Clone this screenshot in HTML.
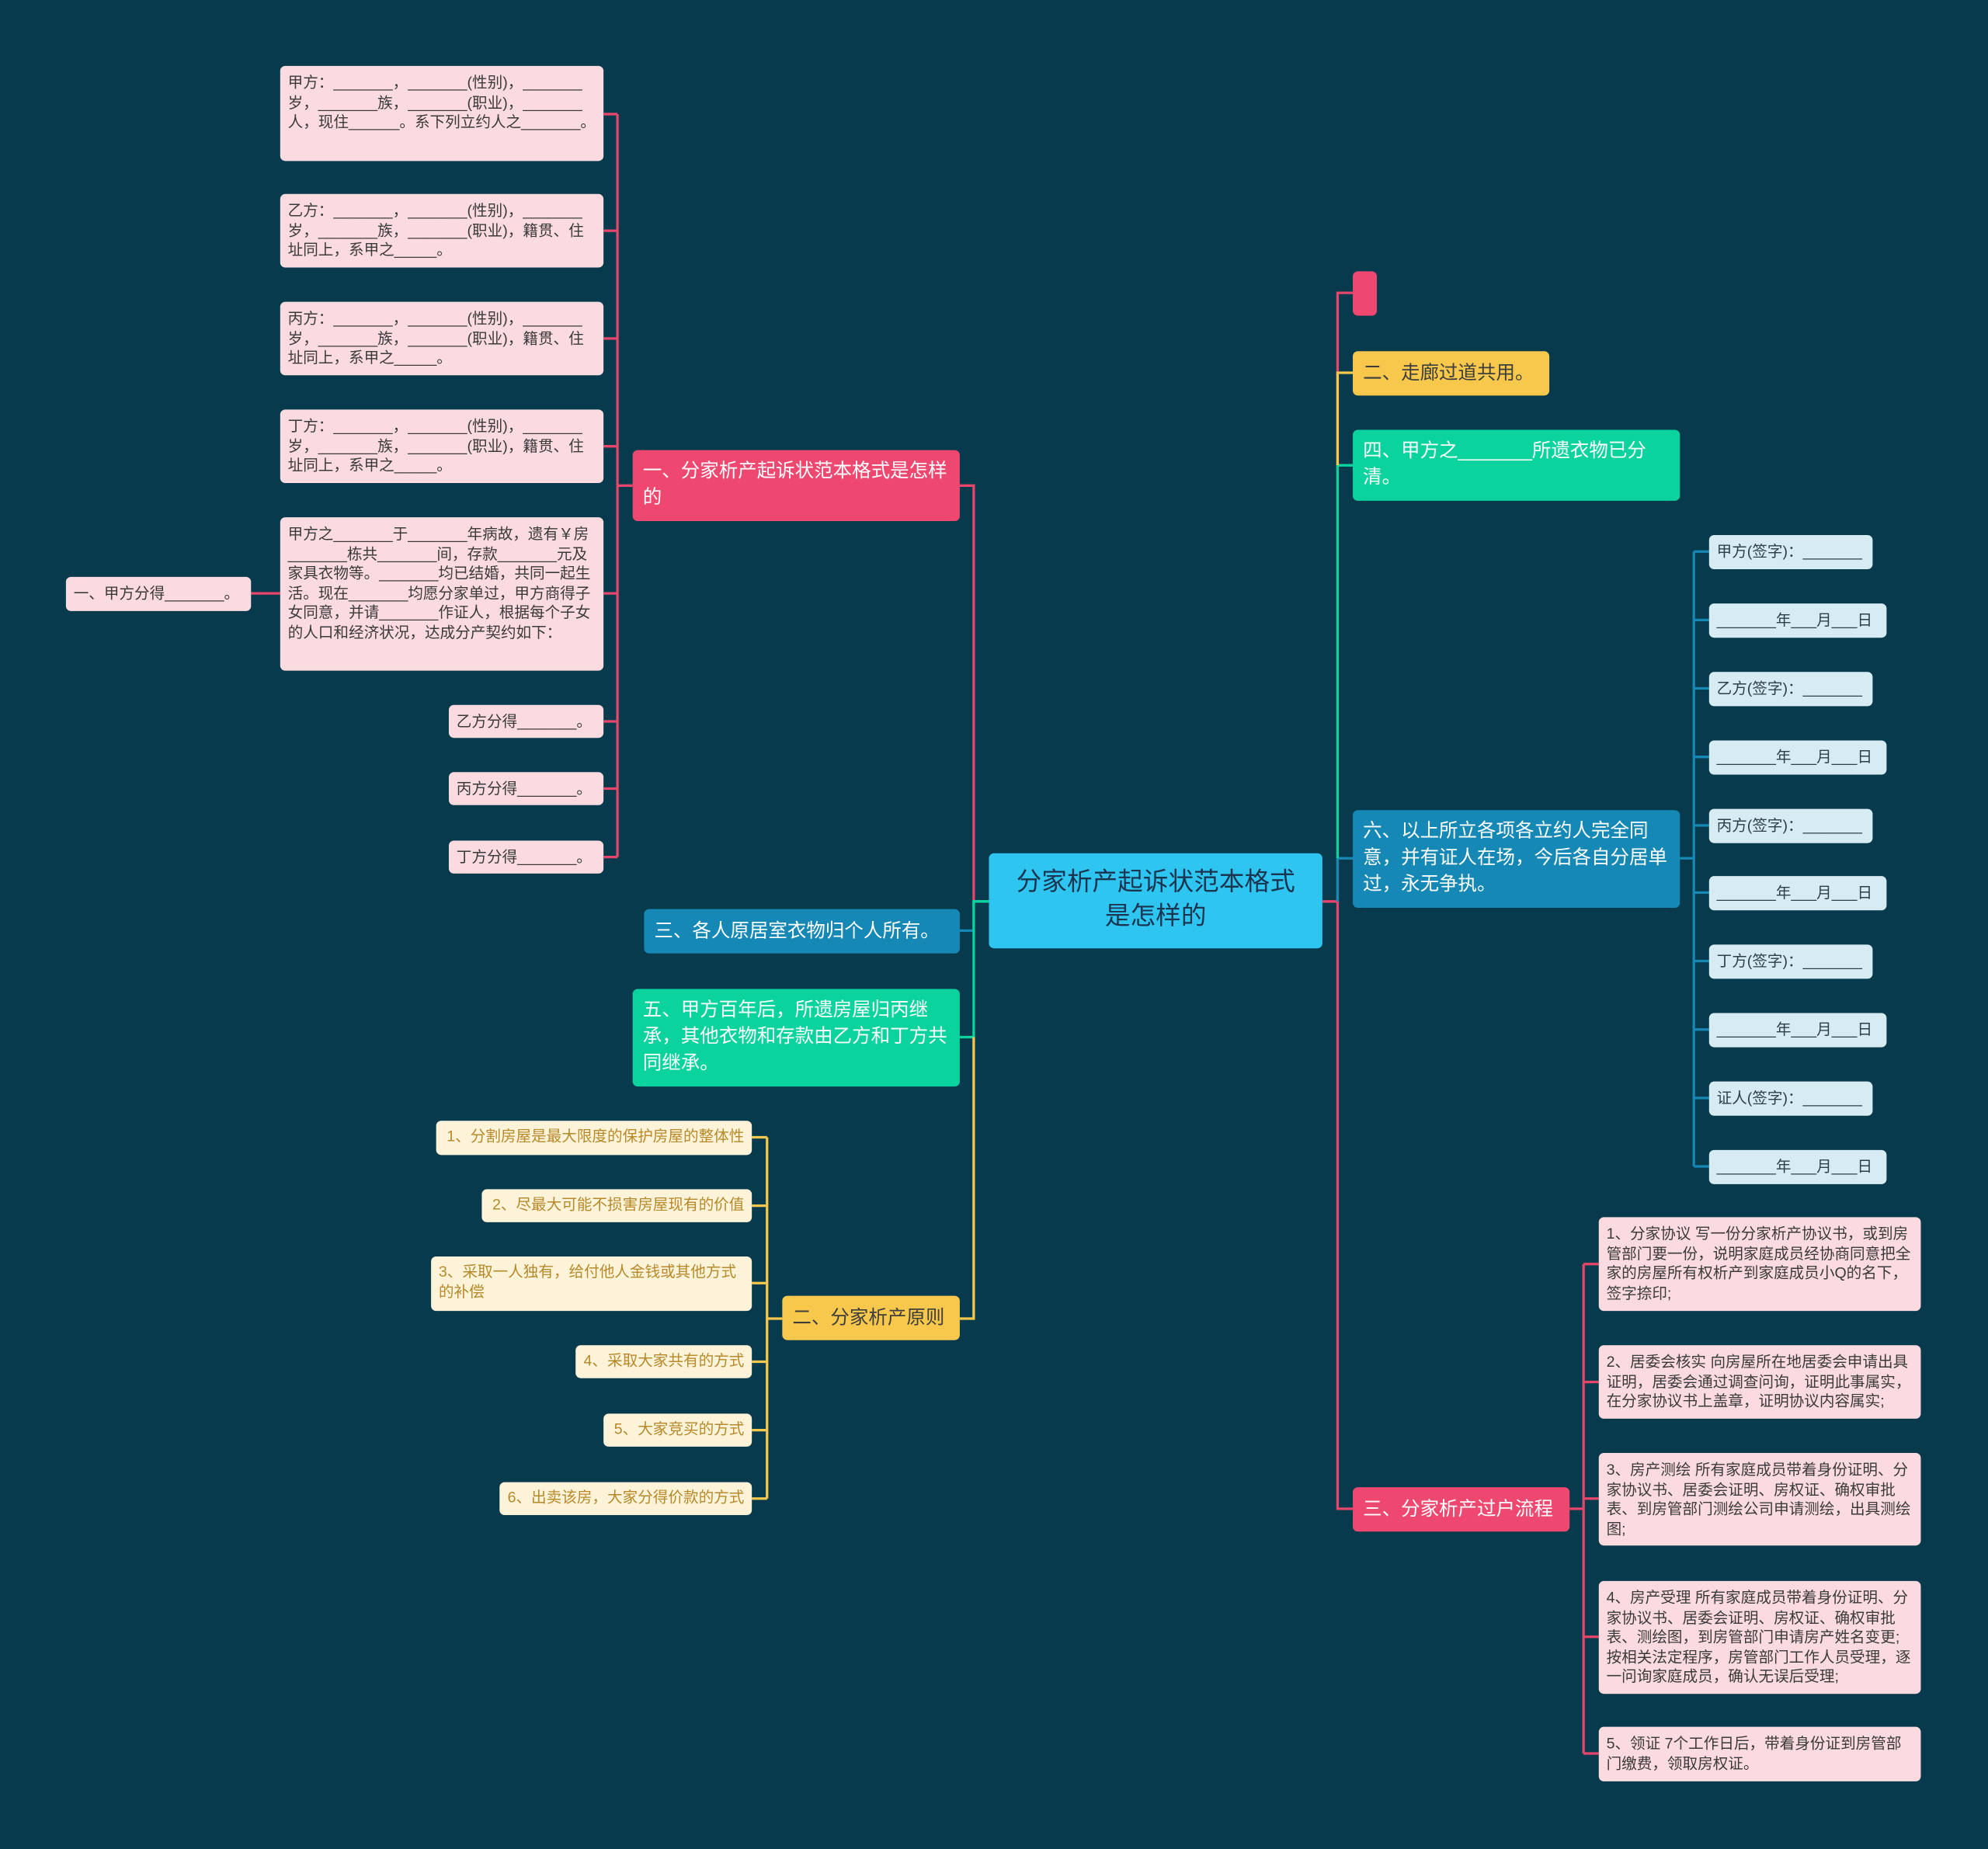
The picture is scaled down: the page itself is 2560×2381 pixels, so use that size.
<!DOCTYPE html>
<html><head><meta charset="utf-8">
<style>
html,body{margin:0;padding:0;background:#073a4c;}
body{width:2560px;height:2381px;overflow:hidden;}
#s{position:absolute;left:0;top:0;width:1568px;height:1458px;transform:scale(1.63265);transform-origin:0 0;background:#073a4c;font-family:"Liberation Sans","Noto Sans CJK SC",sans-serif;}
.n{position:absolute;box-sizing:border-box;border-radius:4px;}
.p{background:#fbdbe0;color:#3a3a3a;font-size:12px;line-height:15.5px;padding:6px 6px;}
.y{background:#fdf3d8;color:#b8892a;font-size:12px;line-height:15.5px;padding:5px 6px;text-align:right;white-space:nowrap;}
.b{background:#d6ecf2;color:#2c3e4a;font-size:12px;line-height:15px;padding:6px 6px;white-space:nowrap;}
.br{font-size:15px;line-height:21px;padding:6px 8px;}
.red{background:#ef4870;color:#fff;}
.blu{background:#1688b5;color:#fff;}
.grn{background:#0bd39d;color:#fff;}
.yel{background:#f8c84c;color:#3d3d3d;}
svg{position:absolute;left:0;top:0;}
</style></head><body><div id="s">
<svg width="1568" height="1458" fill="none" stroke-width="2">
<g stroke="#e8456a">
<path d="M499 383H487M487 90V676M476 90H487M476 182H487M476 267H487M476 352H487M476 468H487M476 569H487M476 622H487M476 676H487M221 468H198"/>
<path d="M780 711H768V383H757"/>
<path d="M1043 711H1055V231H1067"/>
<path d="M1055 711V1190H1067"/>
<path d="M1238 1190H1249M1249 997V1383M1249 997H1261M1249 1090H1261M1249 1182H1261M1249 1291H1261M1249 1383H1261"/>
</g>
<g stroke="#1688b5"><path d="M780 711H768V734H757"/><path d="M1055 711V677H1067"/>
<path d="M1325 677H1336M1336 435V920M1336 435H1348M1336 489H1348M1336 543H1348M1336 597H1348M1336 651H1348M1336 704H1348M1336 758H1348M1336 812H1348M1336 866H1348M1336 920H1348"/></g>
<g stroke="#0bd39d"><path d="M780 711H768V818H757"/><path d="M1055 677V367H1067"/></g>
<g stroke="#f8c84c"><path d="M768 818V1040H757"/><path d="M1055 367V294H1067"/>
<path d="M617 1040H605M605 897V1182M593 897H605M593 951H605M593 1012H605M593 1074H605M593 1128H605M593 1182H605"/></g>
</svg>

<div class="n" style="left:780px;top:673px;width:263px;height:75px;background:#2ec5f0;color:#1b3550;font-size:20px;line-height:27px;text-align:center;padding-top:10px;">分家析产起诉状范本格式<br>是怎样的</div>

<div class="n br red" style="left:499px;top:355px;width:258px;height:56px;">一、分家析产起诉状范本格式是怎样的</div>
<div class="n br blu" style="left:508px;top:717px;width:249px;height:35px;padding-top:7px;">三、各人原居室衣物归个人所有。</div>
<div class="n br grn" style="left:499px;top:780px;width:258px;height:77px;">五、甲方百年后，所遗房屋归丙继承，其他衣物和存款由乙方和丁方共同继承。</div>
<div class="n br yel" style="left:617px;top:1022px;width:140px;height:35px;padding-top:7px;">二、分家析产原则</div>

<div class="n p" style="left:221px;top:52px;width:255px;height:75px;">甲方：_______，_______(性别)，_______岁，_______族，_______(职业)，_______人，现住______。系下列立约人之_______。</div>
<div class="n p" style="left:221px;top:153px;width:255px;height:58px;">乙方：_______，_______(性别)，_______岁，_______族，_______(职业)，籍贯、住址同上，系甲之_____。</div>
<div class="n p" style="left:221px;top:238px;width:255px;height:58px;">丙方：_______，_______(性别)，_______岁，_______族，_______(职业)，籍贯、住址同上，系甲之_____。</div>
<div class="n p" style="left:221px;top:323px;width:255px;height:58px;">丁方：_______，_______(性别)，_______岁，_______族，_______(职业)，籍贯、住址同上，系甲之_____。</div>
<div class="n p" style="left:221px;top:408px;width:255px;height:121px;">甲方之_______于_______年病故，遗有￥房_______栋共_______间，存款_______元及家具衣物等。_______均已结婚，共同一起生活。现在_______均愿分家单过，甲方商得子女同意，并请_______作证人，根据每个子女的人口和经济状况，达成分产契约如下：</div>
<div class="n p" style="left:52px;top:455px;width:146px;height:27px;white-space:nowrap;">一、甲方分得_______。</div>
<div class="n p" style="left:354px;top:556px;width:122px;height:26px;white-space:nowrap;">乙方分得_______。</div>
<div class="n p" style="left:354px;top:609px;width:122px;height:26px;white-space:nowrap;">丙方分得_______。</div>
<div class="n p" style="left:354px;top:663px;width:122px;height:26px;white-space:nowrap;">丁方分得_______。</div>

<div class="n y" style="left:344px;top:884px;width:249px;height:27px;">1、分割房屋是最大限度的保护房屋的整体性</div>
<div class="n y" style="left:380px;top:938px;width:213px;height:26px;">2、尽最大可能不损害房屋现有的价值</div>
<div class="n y" style="left:340px;top:991px;width:253px;height:43px;text-align:left;white-space:normal;">3、采取一人独有，给付他人金钱或其他方式的补偿</div>
<div class="n y" style="left:454px;top:1061px;width:139px;height:26px;">4、采取大家共有的方式</div>
<div class="n y" style="left:476px;top:1115px;width:117px;height:26px;">5、大家竞买的方式</div>
<div class="n y" style="left:394px;top:1169px;width:199px;height:26px;">6、出卖该房，大家分得价款的方式</div>

<div class="n red" style="left:1067px;top:214px;width:19px;height:35px;"></div>
<div class="n br yel" style="left:1067px;top:277px;width:155px;height:35px;padding-top:7px;">二、走廊过道共用。</div>
<div class="n br grn" style="left:1067px;top:339px;width:258px;height:56px;">四、甲方之_______所遗衣物已分清。</div>
<div class="n br blu" style="left:1067px;top:639px;width:258px;height:77px;">六、以上所立各项各立约人完全同意，并有证人在场，今后各自分居单过，永无争执。</div>
<div class="n br red" style="left:1067px;top:1173px;width:171px;height:35px;padding-top:7px;">三、分家析产过户流程</div>

<div class="n b" style="left:1348px;top:422px;width:129px;height:27px;">甲方(签字)：_______</div>
<div class="n b" style="left:1348px;top:476px;width:140px;height:27px;">_______年___月___日</div>
<div class="n b" style="left:1348px;top:530px;width:129px;height:27px;">乙方(签字)：_______</div>
<div class="n b" style="left:1348px;top:584px;width:140px;height:27px;">_______年___月___日</div>
<div class="n b" style="left:1348px;top:638px;width:129px;height:27px;">丙方(签字)：_______</div>
<div class="n b" style="left:1348px;top:691px;width:140px;height:27px;">_______年___月___日</div>
<div class="n b" style="left:1348px;top:745px;width:129px;height:27px;">丁方(签字)：_______</div>
<div class="n b" style="left:1348px;top:799px;width:140px;height:27px;">_______年___月___日</div>
<div class="n b" style="left:1348px;top:853px;width:129px;height:27px;">证人(签字)：_______</div>
<div class="n b" style="left:1348px;top:907px;width:140px;height:27px;">_______年___月___日</div>

<div class="n p" style="left:1261px;top:960px;width:254px;height:74px;">1、分家协议 写一份分家析产协议书，或到房管部门要一份，说明家庭成员经协商同意把全家的房屋所有权析产到家庭成员小Q的名下，签字捺印;</div>
<div class="n p" style="left:1261px;top:1061px;width:254px;height:58px;">2、居委会核实 向房屋所在地居委会申请出具证明，居委会通过调查问询，证明此事属实，在分家协议书上盖章，证明协议内容属实;</div>
<div class="n p" style="left:1261px;top:1146px;width:254px;height:73px;">3、房产测绘 所有家庭成员带着身份证明、分家协议书、居委会证明、房权证、确权审批表、到房管部门测绘公司申请测绘，出具测绘图;</div>
<div class="n p" style="left:1261px;top:1247px;width:254px;height:89px;">4、房产受理 所有家庭成员带着身份证明、分家协议书、居委会证明、房权证、确权审批表、测绘图，到房管部门申请房产姓名变更;按相关法定程序，房管部门工作人员受理，逐一问询家庭成员，确认无误后受理;</div>
<div class="n p" style="left:1261px;top:1362px;width:254px;height:43px;">5、领证 7个工作日后，带着身份证到房管部门缴费，领取房权证。</div>
</div></body></html>
